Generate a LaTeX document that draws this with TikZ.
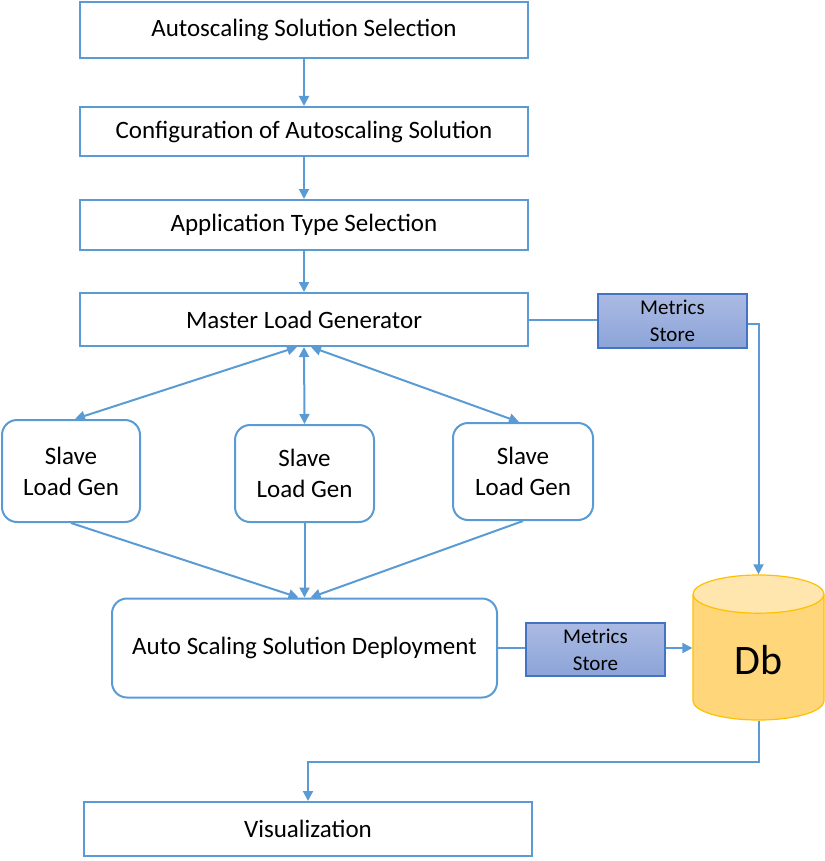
\documentclass[tikz,border=0pt]{standalone}
\usepackage{fontspec}
\setmainfont{Carlito}
\usetikzlibrary{arrows.meta,shapes.geometric}

\definecolor{lineblue}{HTML}{5B9BD5}
\definecolor{storeline}{HTML}{4472C4}
\definecolor{storetop}{HTML}{ABBAE3}
\definecolor{storebot}{HTML}{8CA4D8}
\definecolor{dbline}{HTML}{FFC000}
\definecolor{dbbody}{HTML}{FFD67A}
\definecolor{dbend}{HTML}{FFE6AE}

\tikzset{
  stage/.style={draw=lineblue, line width=2pt, minimum width=448pt,
    inner sep=0pt, font=\fontsize{25}{30}\selectfont},
  slave/.style={draw=lineblue, line width=2pt, rounded corners=15pt,
    minimum width=139pt, minimum height=99pt, align=center,
    font=\fontsize{25}{31}\selectfont},
  store/.style={draw=storeline, line width=1.2pt, top color=storetop,
    bottom color=storebot, align=center, inner sep=0pt,
    font=\fontsize{21}{27}\selectfont},
  flow/.style={draw=lineblue, line width=2pt, -{Triangle[length=10pt,width=10pt]}},
  both/.style={flow, {Triangle[length=10pt,width=10pt]}-{Triangle[length=10pt,width=10pt]}},
  plain/.style={draw=lineblue, line width=2pt}
}

\begin{document}
\begin{tikzpicture}[x=1pt,y=-1pt]

\useasboundingbox (0,0) rectangle (824,861);

\coordinate (select) at (304,30);
\coordinate (config) at (304,131.5);
\coordinate (apptype) at (304,225);
\coordinate (master) at (304,319.5);
\coordinate (slave-a) at (71,471);
\coordinate (slave-b) at (304.5,473.5);
\coordinate (slave-c) at (523,471.5);
\coordinate (deploy) at (304.5,648);
\coordinate (store-a) at (672.5,321);
\coordinate (store-b) at (595.5,649.5);
\coordinate (db-c) at (758.5,647.5);
\coordinate (visual) at (308,829);
\coordinate (bend) at (308,762);

\node [stage, minimum height=56pt] (select-box) at (select) {Autoscaling Solution Selection};
\node [stage, minimum height=49pt] (config-box) at (config) {Configuration of Autoscaling Solution};
\node [stage, minimum height=50pt] (apptype-box) at (apptype) {Application Type Selection};
\node [stage, minimum height=53pt] (master-box) at (master) {Master Load Generator};

\node [slave, minimum width=138pt, minimum height=102pt] (slave-a-box) at (slave-a) {Slave\\Load Gen};
\node [slave, minimum height=97pt] (slave-b-box) at (slave-b) {Slave\\Load Gen};
\node [slave, minimum width=140pt, minimum height=97pt] (slave-c-box) at (slave-c) {Slave\\Load Gen};

\node [slave, minimum width=385pt, minimum height=99pt] (deploy-box) at (deploy) {Auto Scaling Solution Deployment};

\node [store, minimum width=149pt, minimum height=54pt] (store-a-box) at (store-a) {Metrics\\Store};
\node [store, minimum width=139pt, minimum height=53pt] (store-b-box) at (store-b) {Metrics\\Store};

\node [cylinder, shape border rotate=90, aspect=0.7, draw=dbline, line width=1.2pt,
  minimum width=131pt, minimum height=145pt, anchor=shape center,
  cylinder uses custom fill, cylinder body fill=dbbody, cylinder end fill=dbend,
  font=\fontsize{42}{50}\selectfont] (db) at (db-c) {Db};

\node [stage, minimum height=54pt] (visual-box) at (visual) {Visualization};

\draw [flow] (select-box) -- (config-box);
\draw [flow] (config-box) -- (apptype-box);
\draw [flow] (apptype-box) -- (master-box);

\draw [both] ([xshift=-7]master-box.south) -- ([xshift=4]slave-a-box.north);
\draw [both] (master-box.south) -- (slave-b-box.north);
\draw [both] ([xshift=7]master-box.south) -- ([xshift=-4]slave-c-box.north);

\draw [flow] (slave-a-box.south) -- ([xshift=-6]deploy-box.north);
\draw [flow] (slave-b-box.south) -- (deploy-box.north);
\draw [flow] (slave-c-box.south) -- ([xshift=6]deploy-box.north);

\draw [plain] (master-box.east) -- (master-box.east -| store-a-box.west);
\draw [flow] ([yshift=-3]store-a-box.east) -| (db.north);
\draw [plain] (deploy-box.east) -- (deploy-box.east -| store-b-box.west);
\draw [flow] (store-b-box.east |- deploy-box.east) -- (deploy-box.east -| db.west);

\draw [flow] (db.south) |- (bend) -- (visual-box.north);

\end{tikzpicture}
\end{document}
